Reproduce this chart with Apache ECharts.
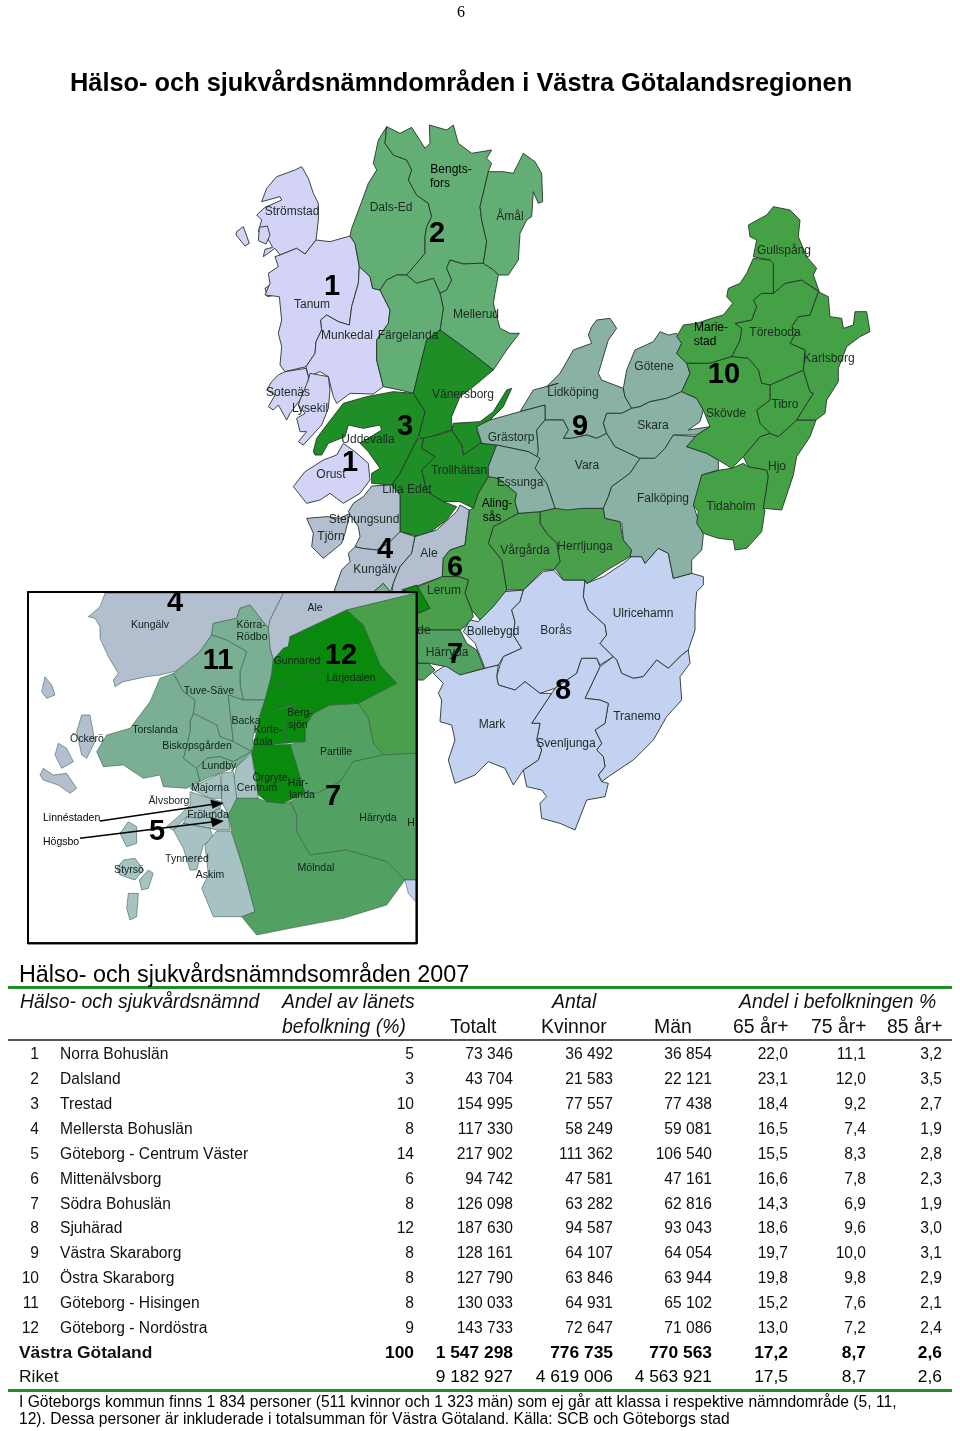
<!DOCTYPE html>
<html><head><meta charset="utf-8">
<style>html,body{margin:0;padding:0;background:#fff}#c{width:960px;height:1431px}</style>
<script src="https://cdn.jsdelivr.net/npm/echarts@6/dist/echarts.min.js"></script>
</head><body><div id="c"></div>
<script>
// ---------- table data ----------
const ids = [1,2,3,4,5,6,7,8,9,10,11,12];
const names = ['Norra Bohuslän','Dalsland','Trestad','Mellersta Bohuslän','Göteborg - Centrum Väster','Mittenälvsborg','Södra Bohuslän','Sjuhärad','Västra Skaraborg','Östra Skaraborg','Göteborg - Hisingen','Göteborg - Nordöstra'];
const share = [5,3,10,8,14,6,8,12,8,8,8,9];
const totalt = [73346,43704,154995,117330,217902,94742,126098,187630,128161,127790,130033,143733];
const kvinnor = [36492,21583,77557,58249,111362,47581,63282,94587,64107,63846,64931,72647];
const man = [36854,22121,77438,59081,106540,47161,62816,93043,64054,63944,65102,71086];
const age65 = [22.0,23.1,18.4,16.5,15.5,16.6,14.3,18.6,19.7,19.8,15.2,13.0];
const age75 = [11.1,12.0,9.2,7.4,8.3,7.8,6.9,9.6,10.0,9.8,7.6,7.2];
const age85 = [3.2,3.5,2.7,1.9,2.8,2.3,1.9,3.0,3.1,2.9,2.1,2.4];
const vg = {name:'Västra Götaland',share:100,totalt:1547298,kvinnor:776735,man:770563,a65:17.2,a75:8.7,a85:2.6};
const riket = {name:'Riket',totalt:9182927,kvinnor:4619006,man:4563921,a65:17.5,a75:8.7,a85:2.6};

const pageNo='6';
const mainTitle='Hälso- och sjukvårdsnämndområden i Västra Götalandsregionen';
const tableTitle='Hälso- och sjukvårdsnämndsområden 2007';
const note1='I Göteborgs kommun finns 1 834 personer (511 kvinnor och 1 323 män) som ej går att klassa i respektive nämndområde (5, 11,';
const note2='12). Dessa personer är inkluderade i totalsumman för Västra Götaland. Källa: SCB och Göteborgs stad';

// ---------- area colours ----------
const areaColor={1:'#D2D3F6',2:'#62AE74',3:'#1F8E26',4:'#B3BFCF',5:'#A7C2C3',6:'#4AA04A',7:'#53A063',8:'#C3D2F0',9:'#8AB1A5',10:'#45A145',11:'#7AAF94',12:'#0A8A0C'};

const at=(ox,oy)=>f=>{const r=[];for(let i=0;i<f.length;i+=2)r.push([ox+f[i]/3,oy+f[i+1]/3]);return r;};
const A=at(230,120),B=at(540,200),C=at(280,380),D=at(420,560),E=at(20,585),F=at(590,490),G=at(260,370);

const mainShapes=[
 [1,A([95,245,110,205,140,170,195,150,215,140,235,175,250,220,265,250,265,300,258,360,225,402,200,385,150,405,135,385,100,410,105,388,128,382,110,350,85,335,95,300,80,285,105,262,155,240,150,230])],
 [1,A([20,335,40,320,58,370,45,378,18,345])],
 [1,A([88,322,112,318,120,345,108,372,85,362])],
 [1,A([118,458,135,462,145,480,125,485])],
 [1,A([105,505,128,490,150,522,112,530])],
 [1,A([150,405,200,385,225,402,258,360,300,365,360,348,375,370,388,440,385,490,365,560,358,615,325,605,290,585,272,600,275,630,258,665,255,700,228,740,165,755,150,735,155,680,145,640,155,600,148,530,105,525,120,490,115,460,145,440,135,410])],
 [1,A([388,440,420,470,428,505,450,510,480,570,475,610,440,660,440,720,460,800,430,822,360,820,320,850,310,830,295,770,270,755,235,770,228,740,255,700,258,665,275,630,272,600,290,585,325,605,358,615,365,560,385,490])],
 [1,[...A([165,755,228,745,235,770]),...G([145,40,120,90,90,130,80,150,55,105,40,120,25,110,45,75,20,60,35,35,55,15])]],
 [1,G([145,30,150,10,205,20,210,60,205,115,185,165,130,225,115,215,140,185,120,185,110,145,135,130,115,105,120,90])],
 [1,C([40,320,75,275,130,240,170,225,190,190,225,215,265,250,270,300,240,340,190,370,150,340,120,360,80,370,60,345])],
 [2,A([470,20,465,70,490,105,530,120,545,150,535,180,560,225,595,250,605,290,590,320,585,350,585,400,560,430,530,465,500,465,470,480,450,510,428,505,420,470,388,440,375,370,360,348,365,325,395,245,415,190,440,150,430,130,445,60])],
 [2,A([470,20,510,40,545,22,585,85,600,70,598,15,650,30,670,15,685,70,725,100,785,90,770,115,785,130,775,155,750,260,755,300,770,365,760,430,745,430,700,432,660,420,650,445,665,480,650,510,630,520,610,475,560,490,530,465,560,430,585,400,585,350,590,320,605,290,595,250,560,225,535,180,545,150,530,120,490,105,465,70])],
 [2,A([775,155,820,155,850,160,880,100,915,125,935,160,938,245,925,250,910,215,905,290,890,300,870,340,865,420,835,465,805,465,790,450,760,430,770,365,755,300,750,260])],
 [2,A([660,420,700,432,745,430,760,430,790,450,805,465,795,520,790,550,810,625,840,640,868,640,830,690,790,750,720,695,630,630,640,565,630,520,650,510,665,480,650,445])],
 [2,A([450,510,470,480,500,465,530,465,560,490,610,475,630,520,640,565,630,630,590,660,580,700,550,820,510,810,460,800,440,720,440,660,475,610,480,570])],
 [3,[...A([590,660,630,630,720,695,790,750,730,800,690,830,665,890]),...C([515,150,480,160,440,180,415,170,435,95,400,40])]],
 [3,C([515,150,520,130,600,125,640,95,680,30,695,25,670,80,625,125,590,150,605,190,550,225,545,195])],
 [3,C([100,215,110,175,140,135,190,70,260,50,340,35,400,40,435,95,415,170,400,200,360,280,335,315,275,310,275,280,300,265,265,215,240,190,305,150,300,135,250,145,205,135,195,170,145,190,125,225,105,225])],
 [3,C([430,175,490,160,515,150,545,195,550,225,600,190,650,195,625,260,625,290,595,340,580,385,540,365,490,365,440,335,425,270,465,230,425,205])],
 [3,C([335,315,360,280,400,200,415,175,430,175,425,205,465,230,425,270,440,335,490,365,530,380,500,420,460,450,420,470,360,455,360,345])],
 [4,C([80,415,140,410,180,415,210,400,195,460,185,490,130,535,95,500,100,460])],
 [4,C([275,318,335,315,360,345,360,455,350,475,325,490,290,510,245,505,225,500,240,470,235,440,205,395,220,370,250,350,270,325])],
 [4,C([225,500,245,505,290,510,325,490,360,455,405,470,395,520,360,560,340,610,330,640,275,640,160,640,185,570,210,545,205,520])],
 [4,C([405,470,470,450,530,395,540,375,568,390,555,495,510,510,490,535,487,590,405,620,365,640,335,640,340,610,360,560,395,520])],
 [11,C([275,640,310,610,335,640])],
 [8,D([150,180,175,185,255,95,310,90,300,125,275,150,285,185,280,225,305,265,250,290,235,315,195,325,165,250,130,215])],
 [8,D([310,90,370,35,400,30,430,60,495,60,490,110,505,150,555,195,560,225,540,250,580,290,540,315,530,295,485,295,470,340,405,385,360,400,315,365,285,390,235,375,230,350,240,315,250,290,305,265,280,225,285,185,275,150,300,125])],
 [8,D([495,60,500,70,550,50,610,10,635,-10,665,-10,675,10,715,-35,745,-20,760,55,815,40,850,50,850,75,830,95,825,155,825,210,805,270,785,285,745,325,710,300,670,350,640,355,605,340,590,300,580,290,540,250,560,225,555,195,505,150,490,110])],
 [8,D([580,290,590,300,605,340,640,355,670,350,710,300,745,325,785,285,805,270,810,310,780,350,785,420,740,470,700,540,640,600,565,650,545,665,535,645,555,620,550,590,530,570,545,550,525,510,555,490,565,430,540,420,495,415,540,320])],
 [8,D([485,295,530,295,540,320,495,415,540,420,565,430,555,490,525,510,545,550,530,570,550,590,555,620,535,645,545,665,565,670,555,710,500,720,465,810,420,790,365,775,360,730,380,710,365,690,320,680,310,630,355,600,365,570,350,540,360,490,335,490,395,400,405,385,470,340])],
 [8,D([40,340,85,310,135,340,195,325,235,315,230,350,235,375,285,390,315,365,360,400,395,400,335,490,360,490,350,540,365,570,355,600,310,630,280,675,255,625,205,605,165,645,105,670,85,600,105,540,95,495,60,485,65,420,55,400,70,370])],
 [6,[...C([780,395,825,385]),...B([130,925,190,925,195,955,240,965,245,1000]),...F([100,150,125,180,120,200,60,235,0,275]),...D([500,70,495,60,430,60,405,25]),...C([820,570,840,545,830,490,800,460,780,430])]],
 [6,C([715,400,780,395,780,430,800,460,830,490,840,545,820,570,790,570,730,630,680,630,665,540,625,490,640,440])],
 [6,C([625,290,655,295,710,340,705,365,715,400,640,440,625,490,665,540,680,630,640,680,600,720,575,690,555,640,565,600,535,590,487,590,490,535,510,510,555,495,568,390,580,385,595,340])],
 [6,C([365,640,487,590,535,590,565,600,555,640,575,690,580,710,555,740,540,750,410,750,410,640])],
 [7,C([410,750,540,750,560,790,590,810,612,865,540,885,500,860,445,850,410,850])],
 [7,C([410,850,445,850,465,870,430,900,410,900])],
 [12,C([365,630,410,615,450,685,415,700,405,640])],
 [9,[...C([720,95,760,30,835,10]),...B([20,560,60,520,80,485,100,450,155,430,145,405,155,380,170,360,210,355,230,385,205,420,175,520,185,540,250,565,255,590,275,625,245,640,200,640,190,670,200,700,170,715,140,705,95,715,70,715,85,690,70,660]),...C([795,120,795,75])]],
 [9,C([590,140,630,120,720,95,795,75,795,120,770,150,775,210,780,235,745,215,650,195,605,190])],
 [9,[...C([795,120,770,150,775,210,765,265,800,310,825,385]),...B([80,930,130,925,190,925,205,890,215,860,270,820,300,775,225,740,200,700,170,715,140,705,95,715,70,715,85,690,70,660])]],
 [9,C([650,195,745,215,780,235,765,265,800,310,825,385,780,395,715,400,705,365,710,340,655,295,625,290,625,260])],
 [9,B([250,565,260,510,285,450,340,425,360,395,385,405,410,400,425,430,410,460,440,490,450,520,425,575,380,595,330,605,300,620,275,625,255,590])],
 [9,B([190,670,200,640,245,640,275,625,300,620,330,605,380,595,425,575,470,595,490,630,480,665,445,690,510,680,470,705,400,705,375,745,345,775,300,775,225,740,200,700])],
 [9,[...B([300,775,345,775,375,745,400,705,470,710,440,740,500,760,535,780,535,810,485,825,480,870,460,915,485,990]),...F([340,135,335,180,305,210,305,250,250,265,235,190,205,175,165,220,155,200,120,200,125,180,100,150,95,100]),...B([240,965,195,955,190,925,205,890,215,860,270,820])]],
 [10,[...B([485,825,540,810,575,805,610,790,625,800,680,810,685,830,670,925]),...F([525,60,515,125,470,175,435,180,430,150,385,145,340,130,320,100,325,65,310,45])]],
 [10,B([610,770,660,710,690,700,715,710,770,660,828,660,810,710,770,770,760,825,725,930,670,925,685,830,680,810,625,800])],
 [10,B([650,630,690,600,690,555,790,510,810,575,820,580,770,660,715,710,690,700,660,670])],
 [10,B([835,275,865,290,870,350,905,355,910,385,940,375,945,335,980,335,990,395,960,410,920,440,895,505,895,545,860,600,855,640,828,660,770,660,820,580,810,575,790,510,795,450,750,430,770,395,755,380,775,350,810,345])],
 [10,B([640,300,665,280,700,280,735,250,785,240,835,275,810,345,775,350,755,380,770,395,750,430,795,450,790,510,690,555,665,550,655,510,625,475,575,470,600,420,605,385,585,370,635,360,650,320])],
 [10,B([640,170,650,120,630,110,625,75,680,45,700,20,750,30,780,60,775,110,800,170,830,205,820,225,838,275,785,240,735,250,700,280,700,190,690,180])],
 [10,B([640,175,690,180,700,190,700,280,665,280,640,300,650,320,635,360,585,370,605,385,600,420,575,470,510,490,440,490,410,460,425,430,410,410,430,375,470,370,515,355,550,345,578,310,560,290,565,265,600,250,620,220])],
 [10,B([440,490,510,490,575,470,625,475,655,510,665,550,690,555,690,600,650,630,660,670,690,700,660,710,610,770,575,805,535,780,500,760,440,740,470,705,510,680,490,630,470,595,425,575,450,520])],
];
const insetFrame=E([24,21,1190,21,1190,1075,24,1075]);
const insetShapes=[
 [4,E([255,25,790,25,750,105,745,130,690,60,660,70,650,100,580,115,575,150,540,200,480,255,420,270,380,275,310,290,285,305,280,285,295,265,265,215,240,160,240,125,225,100,205,95,240,65])],
 [4,E([790,25,1187,25,980,75,810,155,805,185,790,190,760,225,750,190,745,130,750,105])],
 [4,E([75,275,95,300,105,330,80,340,65,320])],
 [4,E([185,390,210,390,225,470,200,520,185,510,170,440])],
 [4,E([115,475,140,490,160,530,125,550,105,510])],
 [4,E([70,550,100,570,140,565,170,610,150,625,115,600,70,585,60,570])],
 [11,E([575,150,580,115,650,100,660,70,690,60,745,130,750,190,760,225,755,270,735,345,670,345,660,300,660,260,680,200,620,165])],
 [11,E([460,265,540,200,575,150,620,165,680,200,660,260,660,300,670,345,625,330,640,470,600,455,590,420,520,385,525,345,490,320])],
 [11,E([625,330,670,345,735,345,720,390,700,450,695,500,640,470])],
 [11,E([520,385,590,420,600,455,640,470,695,500,640,530,600,515,560,520,530,550,490,520,510,440,510,410])],
 [11,E([460,265,490,320,525,345,520,385,510,410,510,440,490,520,530,550,540,590,500,610,430,605,420,570,370,580,310,540,250,545,230,500,260,450,330,430,390,350,420,280])],
 [11,E([530,550,560,520,600,515,640,530,695,500,650,545,600,565,570,575,540,590])],
 [5,E([650,545,695,505,715,640,650,640,640,590])],
 [5,E([540,595,600,565,605,640,570,640,510,610])],
 [5,E([605,565,640,560,650,640,655,650,625,690,605,650])],
 [5,E([510,620,570,640,605,650,600,670,540,700,500,695,460,735,440,725,480,690,510,660])],
 [5,E([500,695,540,700,600,670,625,690,630,735,590,735,570,730,490,715])],
 [5,E([460,735,490,715,570,730,580,760,550,780,530,855,510,855,490,790])],
 [5,E([590,738,633,738,670,850,705,980,670,995,580,995,545,910,565,870,555,780])],
 [5,E([325,710,350,725,350,775,320,785,300,745])],
 [5,E([310,825,345,820,370,855,345,885,300,870,290,850])],
 [5,E([385,855,400,865,385,910,365,915,358,885])],
 [5,E([325,925,355,925,350,995,330,1005,320,970])],
 [6,E([980,75,1187,25,1187,505,1090,510,1060,475,1045,400,1015,355,1130,295,1080,240,1030,120])],
 [7,E([1015,355,1045,400,1060,475,1090,510,1000,530,960,590,890,625,855,625,810,478,855,470,855,425,880,385,930,360])],
 [7,E([1090,510,1187,505,1187,885,1155,885,1100,830,980,795,870,810,830,740,830,690,810,650,855,625,890,625,960,590,1000,530])],
 [7,E([650,640,715,640,740,650,790,655,810,650,830,690,830,740,870,810,980,795,1100,830,1155,885,1100,960,970,1000,810,1030,710,1050,665,995,705,980,670,850,635,738,625,690])],
 [8,E([1155,885,1187,885,1187,950,1165,925])],
 [12,E([760,225,790,190,805,185,810,155,850,145,905,265,830,280,800,300,780,305,755,270])],
 [12,E([810,155,980,75,1030,120,1080,240,1130,295,1015,355,930,360,880,385,850,350,800,365,720,390,735,345,755,270,780,305,800,300,830,280,905,265,850,145])],
 [12,E([805,365,850,350,880,385,855,425,855,470,800,475,800,420])],
 [12,E([720,390,805,365,800,420,800,475,740,480,695,505])],
 [12,E([695,505,740,480,810,478,855,625,790,655,740,650,715,630,705,560])],
];
const arrowLines=[E([240,708,600,655]),E([180,760,600,708])];
const arrowHeads=[E([610,655,572,645,578,670]),E([610,708,572,697,578,725])];

// ---------- map labels: text, x, y ----------
const bigNumbers=[['1',332,285],['2',437,232],['3',405,425],['1',350,461],['4',385,548],['6',455,566],['4',175,601],['11',218,659],['12',341,654],['7',455,653],['8',563,689],['9',580,425],['10',724,373],['7',333,795],['5',157,830]];
const mapLabels=[['Strömstad',292,211],['Dals-Ed',391,207],['Åmål',510,216],['Tanum',312,304],['Munkedal',347,335],['Färgelanda',408,335],['Mellerud',476,314],['Vänersborg',463,394],['Sotenäs',288,392],['Lysekil',310,408],['Uddevalla',368,439],['Orust',331,474],['Trollhättan',459,470],['Grästorp',511,437],['Lidköping',573,392],['Essunga',520,482],['Lilla Edet',407,489],['Stenungsund',364,519],['Tjörn',331,536],['Kungälv',375,569],['Ale',429,553],['Lerum',444,590],['Vårgårda',525,550],['Herrljunga',585,546],['Bollebygd',493,631],['Borås',556,630],['Ulricehamn',643,613],['Härryda',447,652],['de',424,630],['Mark',492,724],['Svenljunga',566,743],['Tranemo',637,716],['Götene',654,366],['Skara',653,425],['Vara',587,465],['Falköping',663,498],['Töreboda',775,332],['Gullspång',784,250],['Karlsborg',829,358],['Skövde',726,413],['Tibro',785,404],['Hjo',777,466],['Tidaholm',731,506]];
const blackLabels=[['Bengts-',451,169],['fors',440,183],['Aling-',497,503],['sås',492,517],['Marie-',711,327],['stad',705,341]];
const insetLabels=[['Kungälv',150,624],['Ale',315,607],['Körra-',251,624],['Rödbo',252,636],['Gunnared',297,660],['Lärjedalen',351,677],['Tuve-Säve',209,690],['Backa',246,720],['Berg-',300,712],['sjön',298,724],['Korte-',268,729],['dala',263,741],['Torslanda',155,729],['Biskopsgården',197,745],['Partille',336,751],['Lundby',219,765],['Örgryte',270,777],['Här-',298,782],['landa',302,794],['Majorna',210,787],['Centrum',257,787],['Älvsborg',169,800],['Frölunda',208,814],['Härryda',378,817],['H',411,822],['Tynnered',187,858],['Askim',210,874],['Styrsö',129,869],['Öckerö',87,738],['Mölndal',316,867]];
const insetLeftLabels=[['Linnéstaden',43,817],['Högsbo',43,841]];

// ---------- formatting ----------
const int=v=>String(v).replace(/\B(?=(\d{3})+$)/g,' ');
const dec=v=>v.toFixed(1).replace('.',',');

// ---------- text list ----------
const FF='"Liberation Sans",Arial,sans-serif';
const T=[]; // [text,x,y,font,fill,align]
const t=(s,x,y,font,fill,al,dy)=>T.push([s,x,y+(dy===undefined?1.8:dy),font,fill||'#111',al||'left']);
bigNumbers.forEach(b=>t(b[0],b[1],b[2],'bold 29px '+FF,'#000','center',1.5));
mapLabels.forEach(l=>t(l[0],l[1],l[2],'12px '+FF,'#1c2a22','center',0.8));
blackLabels.forEach(l=>t(l[0],l[1],l[2],'12px '+FF,'#000','center',0.8));
insetLabels.forEach(l=>t(l[0],l[1],l[2],'10.5px '+FF,'#10201a','center',0.8));
insetLeftLabels.forEach(l=>t(l[0],l[1],l[2],'10.5px '+FF,'#000','left',0.8));

t(pageNo,461,11,'16px "Liberation Serif",serif','#000','center');
t(mainTitle,70,82,'bold 25.37px '+FF,'#000');
t(tableTitle,19,974,'23.35px '+FF,'#000');
const HI='italic 19.4px '+FF, HN='19.4px '+FF, R='15.6px '+FF, RB='bold 17.4px '+FF, RL='17.4px '+FF;
t('Hälso- och sjukvårdsnämnd',20,1001,HI);
t('Andel av länets',282,1001,HI);
t('befolkning (%)',282,1026,HI);
t('Antal',552,1001,HI);
t('Andel i befolkningen %',739,1001,HI);
t('Totalt',450,1026,HN);
t('Kvinnor',541,1026,HN);
t('Män',654,1026,HN);
t('65 år+',733,1026,HN);
t('75 år+',811,1026,HN);
t('85 år+',887,1026,HN);
const cols={share:414,totalt:513,kvinnor:613,man:712,a65:788,a75:866,a85:942};
ids.forEach((id,i)=>{
  const y=1053+i*24.91;
  t(String(id),39,y,R,'#111','right');
  t(names[i],60,y,R);
  t(String(share[i]),cols.share,y,R,'#111','right');
  t(int(totalt[i]),cols.totalt,y,R,'#111','right');
  t(int(kvinnor[i]),cols.kvinnor,y,R,'#111','right');
  t(int(man[i]),cols.man,y,R,'#111','right');
  t(dec(age65[i]),cols.a65,y,R,'#111','right');
  t(dec(age75[i]),cols.a75,y,R,'#111','right');
  t(dec(age85[i]),cols.a85,y,R,'#111','right');
});
[[vg,1351,RB],[riket,1375,RL]].forEach(([o,y,f])=>{
  t(o.name,19,y,f);
  if(o.share)t(String(o.share),cols.share,y,f,'#000','right');
  t(int(o.totalt),cols.totalt,y,f,'#000','right');
  t(int(o.kvinnor),cols.kvinnor,y,f,'#000','right');
  t(int(o.man),cols.man,y,f,'#000','right');
  t(dec(o.a65),cols.a65,y,f,'#000','right');
  t(dec(o.a75),cols.a75,y,f,'#000','right');
  t(dec(o.a85),cols.a85,y,f,'#000','right');
});
t(note1,19,1401,'15.62px '+FF,'#000');
t(note2,19,1418,'15.62px '+FF,'#000');

// ---------- ruled lines: x0,x1,y,width,color ----------
const rules=[[8,952,987.5,3,'#1F8E26'],[8,952,1040,2,'#555'],[8,952,1390.5,3,'#1F8E26']];

// ---------- shapes list for the custom series ----------
const S=[];
mainShapes.forEach(s=>S.push({pts:s[1],fill:areaColor[s[0]],stroke:'#26352c',lw:0.9}));
S.push({pts:insetFrame,fill:'#fff',stroke:'#000',lw:2});
insetShapes.forEach(s=>S.push({pts:s[1],fill:areaColor[s[0]],stroke:'rgba(45,80,65,0.65)',lw:0.8}));
S.push({pts:insetFrame,fill:'none',stroke:'#000',lw:2});
arrowHeads.forEach(p=>S.push({pts:p,fill:'#000',stroke:'#000',lw:0.5}));

const chart=echarts.init(document.getElementById('c'),null,{width:960,height:1431});
chart.setOption({
  animation:false,
  backgroundColor:'#fff',
  grid:{left:0,right:0,top:0,bottom:0},
  xAxis:{type:'value',min:0,max:960,show:false},
  yAxis:{type:'value',min:0,max:1431,inverse:true,show:false},
  tooltip:{show:false},
  series:[
   {type:'custom',coordinateSystem:'cartesian2d',silent:true,z:1,clip:false,
    data:S.map((_,i)=>[i]),
    renderItem:(p,api)=>{const s=S[api.value(0)];
      return {type:'polygon',shape:{points:s.pts.map(q=>api.coord(q))},style:{fill:s.fill==='none'?null:s.fill,stroke:s.stroke,lineWidth:s.lw,lineJoin:'round'}};}},
   {type:'custom',coordinateSystem:'cartesian2d',silent:true,z:2,clip:false,
    data:arrowLines.map((_,i)=>[i]),
    renderItem:(p,api)=>{const l=arrowLines[api.value(0)],a=api.coord(l[0]),b=api.coord(l[1]);
      return {type:'line',shape:{x1:a[0],y1:a[1],x2:b[0],y2:b[1]},style:{stroke:'#000',lineWidth:1.5}};}},
   {type:'custom',coordinateSystem:'cartesian2d',silent:true,z:2,clip:false,
    data:rules.map((_,i)=>[i]),
    renderItem:(p,api)=>{const r=rules[api.value(0)],a=api.coord([r[0],r[2]]),b=api.coord([r[1],r[2]]);
      return {type:'line',shape:{x1:a[0],y1:a[1],x2:b[0],y2:b[1]},style:{stroke:r[4],lineWidth:r[3]}};}},
   {type:'custom',coordinateSystem:'cartesian2d',silent:true,z:3,clip:false,
    data:T.map((_,i)=>[i]),
    renderItem:(p,api)=>{const x=T[api.value(0)],c=api.coord([x[1],x[2]]);
      return {type:'text',x:c[0],y:c[1],style:{text:x[0],font:x[3],fill:x[4],align:x[5],verticalAlign:'middle',textAlign:x[5],textVerticalAlign:'middle'}};}}
  ]
});
</script></body></html>
